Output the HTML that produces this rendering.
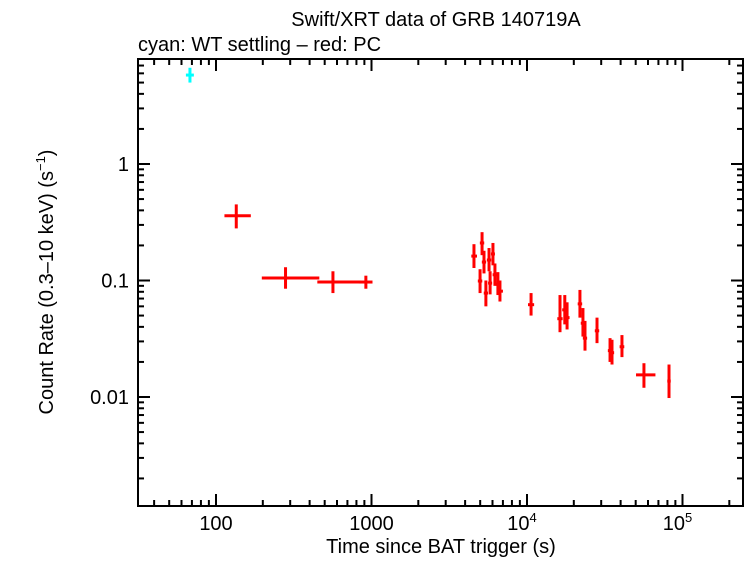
<!DOCTYPE html>
<html><head><meta charset="utf-8"><style>
body{margin:0;background:#fff;font-family:"Liberation Sans",sans-serif}
svg text{font-family:"Liberation Sans",sans-serif;fill:#000}
</style></head><body>
<svg id="c" width="746" height="558"></svg>
<script>
const wtTime=[68], wtTimeLo=[65], wtTimeHi=[71], wtRate=[5.8], wtRateLo=[5.0], wtRateHi=[6.7];
const pcTime=[135,280,565,920,4560,4990,5140,5290,5440,5700,5790,6040,6220,6500,6700,10620,16300,17500,18100,21900,22900,23600,28200,34200,35200,40800,56500,81900];
const pcTimeLo=[115,200,455,840,4450,4900,5050,5200,5350,5600,5700,5950,6100,6350,6550,10300,15900,17100,17700,21500,22500,23200,27700,33600,34600,40000,51000,81000];
const pcTimeHi=[165,455,840,1000,4700,5080,5230,5380,5530,5800,5880,6130,6330,6650,6900,10950,16700,17900,18500,22300,23300,24000,28700,34800,35800,41600,66000,82800];
const pcRate=[0.36,0.105,0.097,0.097,0.162,0.099,0.21,0.144,0.078,0.15,0.095,0.169,0.112,0.093,0.081,0.062,0.047,0.056,0.048,0.063,0.043,0.032,0.037,0.025,0.024,0.027,0.0155,0.0137];
const pcRateLo=[0.28,0.085,0.078,0.085,0.128,0.078,0.165,0.115,0.06,0.12,0.076,0.135,0.09,0.075,0.066,0.05,0.036,0.042,0.038,0.048,0.033,0.025,0.029,0.02,0.019,0.022,0.012,0.0098];
const pcRateHi=[0.45,0.13,0.12,0.11,0.205,0.125,0.26,0.18,0.1,0.19,0.12,0.21,0.14,0.118,0.1,0.078,0.075,0.075,0.065,0.083,0.058,0.045,0.048,0.032,0.031,0.034,0.0195,0.019];
const xTicks=[100,1000,10000,100000], xTickLabels=["100","1000","10","10"], xTickSup=["","","4","5"];
const yTicks=[1,0.1,0.01], yTickLabels=["1","0.1","0.01"];
const L=138,R=743,T=59,B=506;
const xs=t=>216+(Math.log10(t)-2)*155.5;
const ys=r=>164-Math.log10(r)*116.5;
const svg=document.getElementById('c');const NS='http://www.w3.org/2000/svg';
function el(tag,a,p){const e=document.createElementNS(NS,tag);for(const k in a)e.setAttribute(k,a[k]);(p||svg).appendChild(e);return e;}
function txt(x,y,s,a,size){const e=el('text',{x:x,y:y,'text-anchor':a||'middle','font-size':size||20});e.textContent=s;return e;}
let t=txt(436,26,'Swift/XRT data of GRB 140719A');


t=txt(138,51,'cyan: WT settling \u2013 red: PC','start');


const frame=el('rect',{x:L,y:T,width:R-L,height:B-T,fill:'none',stroke:'#000','stroke-width':2});


for(let d=10;d<=1e5;d*=10){for(let m=1;m<10;m++){const v=d*m;const x=xs(v);if(x<L||x>R)continue;const len=m==1?12:6;
el('line',{x1:x,x2:x,y1:B,y2:B-len,stroke:'#000','stroke-width':2});el('line',{x1:x,x2:x,y1:T,y2:T+len,stroke:'#000','stroke-width':2});}}
for(let d=0.001;d<=10;d*=10){for(let m=1;m<10;m++){const v=d*m;const y=ys(v);if(y<T||y>B)continue;const len=m==1?12:6;
el('line',{x1:L,x2:L+len,y1:y,y2:y,stroke:'#000','stroke-width':2});el('line',{x1:R,x2:R-len,y1:y,y2:y,stroke:'#000','stroke-width':2});}}
xTicks.forEach((v,i)=>{const e=txt(xs(v)-(xTickSup[i]?5:0),530,xTickLabels[i]);
if(xTickSup[i]){const s=el('tspan',{dy:-8,'font-size':13},e);s.textContent=xTickSup[i];}

});
yTicks.forEach((v,i)=>{const e=txt(129,ys(v)+7,yTickLabels[i],'end');

});
t=txt(441,553,'Time since BAT trigger (s)','middle',20);


t=txt(0,0,'Count Rate (0.3\u201310 keV) (s','middle',20);
t.setAttribute('transform','translate(53,282) rotate(-90)');
const sp=el('tspan',{dy:-8,'font-size':13},t);sp.textContent='\u22121';
const sp2=el('tspan',{dy:8},t);sp2.textContent=')';


function series(T0,Tl,Th,Rv,Rl,Rh,col,name){const g=el('g',{stroke:col,'stroke-width':3});


T0.forEach((v,i)=>{const x=xs(v),y=ys(Rv[i]);
const h=el('line',{x1:xs(Tl[i])-1,x2:xs(Th[i])+1,y1:y,y2:y},g);


const w=el('line',{x1:x,x2:x,y1:ys(Rl[i]),y2:ys(Rh[i])},g);

});}
series(wtTime,wtTimeLo,wtTimeHi,wtRate,wtRateLo,wtRateHi,'#00ffff','wt-series');
series(pcTime,pcTimeLo,pcTimeHi,pcRate,pcRateLo,pcRateHi,'#ff0000','pc-series');
</script>
</body></html>
